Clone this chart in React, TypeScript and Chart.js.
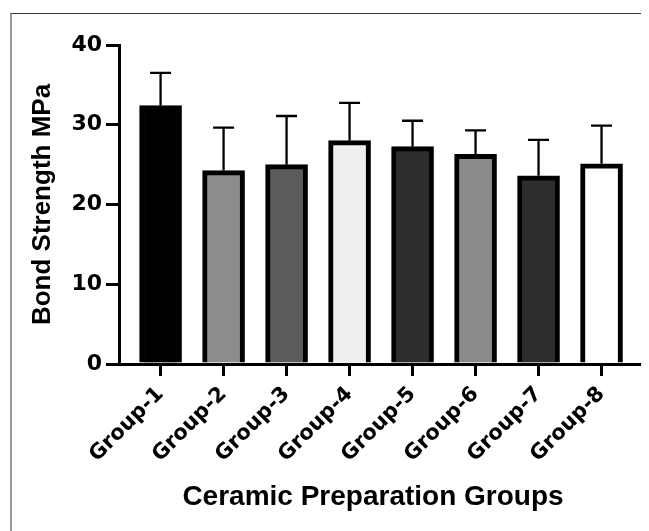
import React, { useEffect, useRef } from "react";
import { Chart, registerables } from "chart.js";

Chart.register(...registerables);

const categories = ["Group-1", "Group-2", "Group-3", "Group-4", "Group-5", "Group-6", "Group-7", "Group-8"];
const means = [32.4, 24.25, 25.0, 28.0, 27.25, 26.3, 23.6, 25.1];
const sds = [4.1, 5.4, 6.1, 4.75, 3.25, 3.0, 4.5, 4.8];
const barColors = ["#000000", "#8c8c8c", "#5c5c5c", "#efefef", "#2d2d2d", "#8a8a8a", "#2d2d2d", "#ffffff"];
const yTicks = [0, 10, 20, 30, 40];
const yTitle = "Bond Strength MPa";
const xTitle = "Ceramic Preparation Groups";

const FONT = "'Liberation Sans', Arial, sans-serif";
const TICK_FONT = "'DejaVu Sans', sans-serif";

const errorBarPlugin = {
  id: "errorBars",
  afterDatasetsDraw(chart: any) {
    const ctx = chart.ctx;
    const meta = chart.getDatasetMeta(0);
    const y = chart.scales.y;
    ctx.save();
    ctx.strokeStyle = "#000";
    ctx.lineWidth = 2.3;
    meta.data.forEach((bar: any, i: number) => {
      const x = bar.x;
      const top = y.getPixelForValue(means[i] + sds[i]);
      const base = y.getPixelForValue(means[i]);
      ctx.beginPath();
      ctx.moveTo(x, base);
      ctx.lineTo(x, top);
      ctx.moveTo(x - 10.5, top);
      ctx.lineTo(x + 10.5, top);
      ctx.stroke();
    });
    ctx.restore();
  },
};

const titlesPlugin = {
  id: "axisTitles",
  afterDraw(chart: any) {
    const ctx = chart.ctx;
    const area = chart.chartArea;
    ctx.save();
    ctx.fillStyle = "#000";
    ctx.font = `bold 28px ${FONT}`;
    ctx.textAlign = "center";
    ctx.textBaseline = "middle";
    ctx.fillText(xTitle, 365, 489);
    ctx.translate(35, (area.top + area.bottom) / 2);
    ctx.rotate(-Math.PI / 2);
    ctx.font = `bold 26px ${FONT}`;
    ctx.fillText(yTitle, 0, 0);
    ctx.restore();
  },
};

export default function App() {
  const ref = useRef<HTMLCanvasElement | null>(null);

  useEffect(() => {
    if (!ref.current) return;
    const chart = new Chart(ref.current, {
      type: "bar",
      data: {
        datasets: [
          {
            data: means.map((v, i) => ({ x: i + 1, y: v })),
            backgroundColor: barColors,
            borderColor: "#000",
            borderWidth: 5,
            borderSkipped: "start",
            barThickness: 42,
          },
        ],
      },
      options: {
        animation: false,
        responsive: false,
        events: [],
        layout: { padding: { top: 37, right: 4, left: 0, bottom: 0 } },
        plugins: { legend: { display: false }, tooltip: { enabled: false } },
        scales: {
          x: {
            type: "linear",
            offset: false,
            min: 0.34,
            max: 8.69,
            afterBuildTicks: (axis: any) => {
              axis.ticks = categories.map((_, i) => ({ value: i + 1 }));
            },
            afterFit: (axis: any) => {
              axis.height = 167;
            },
            ticks: {
              autoSkip: false,
              minRotation: 45,
              maxRotation: 45,
              padding: 6,
              color: "#000",
              font: { family: TICK_FONT, size: 21, weight: "bold" },
              callback: (v: any) => categories[Math.round(v) - 1] ?? "",
            },
            grid: {
              display: true,
              offset: false,
              drawOnChartArea: false,
              drawTicks: true,
              tickLength: 12,
              lineWidth: 3,
              color: "#000",
            },
            border: { display: true, width: 3, color: "#000" },
          },
          y: {
            min: 0,
            max: 40,
            afterBuildTicks: (axis: any) => {
              axis.ticks = yTicks.map((v) => ({ value: v }));
            },
            afterFit: (axis: any) => {
              axis.width = 111;
            },
            ticks: {
              padding: 4,
              color: "#000",
              font: { family: TICK_FONT, size: 22, weight: "bold" },
            },
            grid: {
              display: true,
              drawOnChartArea: false,
              drawTicks: true,
              tickLength: 13,
              lineWidth: 3,
              color: "#000",
            },
            border: { display: true, width: 3, color: "#000" },
          },
        },
      },
      plugins: [errorBarPlugin, titlesPlugin],
    } as any);
    return () => chart.destroy();
  }, []);

  return (
    <div style={{ position: "relative", width: 641, height: 523, overflow: "hidden", background: "#fff" }}>
      <div
        style={{
          position: "absolute",
          left: 2,
          top: 5,
          width: 700,
          height: 600,
          borderTop: "1px solid #333",
          borderLeft: "2px solid #999",
        }}
      />
      <canvas ref={ref} width={641} height={523} style={{ position: "absolute", left: 0, top: 0, width: 641, height: 523 }} />
    </div>
  );
}
